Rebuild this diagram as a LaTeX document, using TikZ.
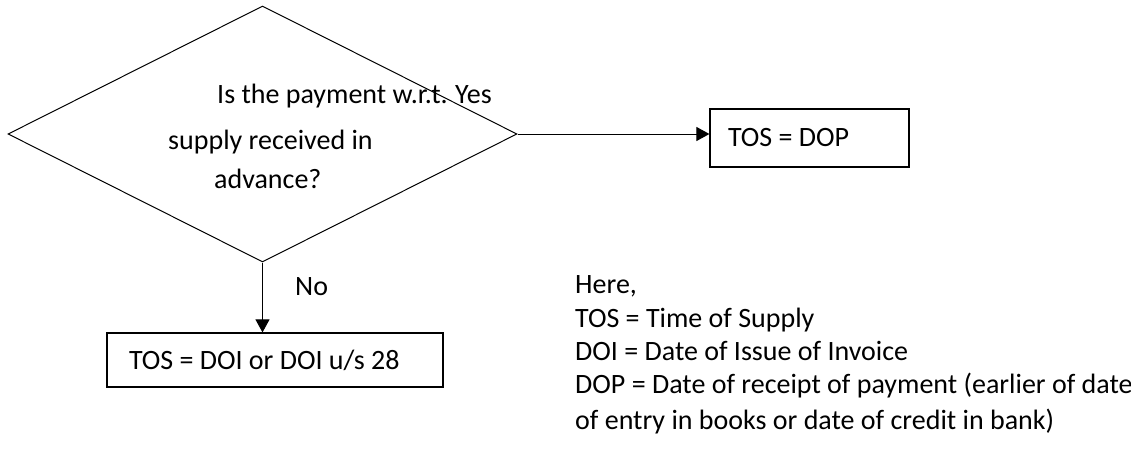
\documentclass[tikz,border=0pt]{standalone}
\usepackage{fontspec}
\setmainfont{Carlito}
\usetikzlibrary{shapes.geometric,arrows.meta}
\begin{document}
\begin{tikzpicture}[x=1pt, y=-1pt, font=\fontsize{28}{34}\selectfont,
	box/.style={draw, line width=1.2pt, inner xsep=0pt, minimum height=#1, align=flush left},
	txt/.style={anchor=base west, inner sep=0pt},
	arr/.style={-{Triangle[length=13pt,width=14pt]}, line width=1pt}]
		\useasboundingbox (0,0) rectangle (1131,468);
		\node[draw, diamond, line width=1pt, inner sep=0pt, minimum width=509pt, minimum height=256pt] (Q) at (262.5,134) {};
		\node[txt] (Q1) at (217,104) {Is the payment w.r.t.};
		\node[txt] (Q2) at (168,149) {supply received in};
		\node[txt] (Q3) at (214,188) {advance?};
		\node[txt] (Y) at (455,104) {Yes};
		\node[txt] (N) at (295,295) {No};
		
		\node[box=58pt, text width=163pt, inner xsep=18pt] (P) at (809.5,138) {TOS = DOP};
		\node[box=54pt, text width=292pt, inner xsep=22pt] (I) at (275,360) {TOS = DOI or DOI u/s 28};
		
		\path [arr] (Q.east) edge (Q.east -| P.west);
		\path [arr] (Q.south) edge (Q.south |- I.north);
		
		\node[txt] (H) at (575,293) {Here,};
		\node[txt] (L1) at (575,327) {TOS = Time of Supply};
		\node[txt] (L2) at (575,360) {DOI = Date of Issue of Invoice};
		\node[txt] (L3) at (575,393) {DOP = Date of receipt of payment (earlier of date};
		\node[txt] (L4) at (575,429) {of entry in books or date of credit in bank)};
		\end{tikzpicture}
\end{document}
